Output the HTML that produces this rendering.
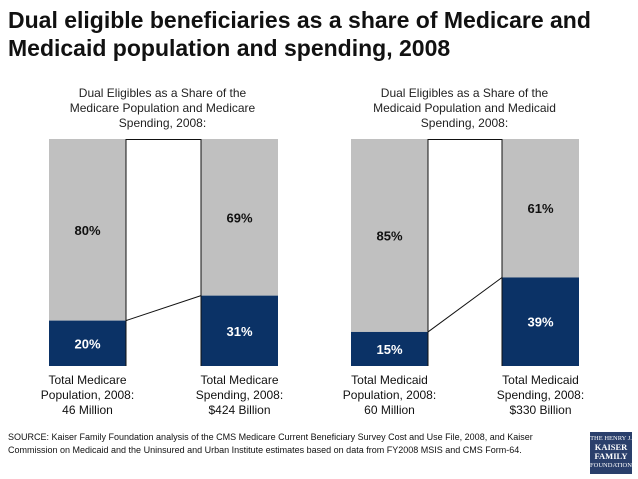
<!DOCTYPE html>
<html><head><meta charset="utf-8"><style>
body{margin:0;width:638px;height:479px;background:#fff;overflow:hidden;font-family:"Liberation Sans",sans-serif;position:relative}
.t{position:absolute;left:8px;top:6px;font-size:23px;font-weight:bold;color:#111;line-height:28px}
.st{position:absolute;font-size:12px;text-align:center;line-height:15px;color:#222}
.src{position:absolute;left:8px;top:431px;font-size:9px;line-height:13px;color:#111}
.logo{position:absolute;left:590px;top:432px;width:42px;height:42px;background:#2a3f6b;color:#fff;font-family:"Liberation Serif",serif;font-size:6.5px;text-align:center;line-height:7.5px;padding-top:3px;box-sizing:border-box;overflow:hidden}
.logo b{font-size:8.5px;line-height:9px}
</style></head><body>
<div class="t">Dual eligible beneficiaries as a share of Medicare and<br>Medicaid population and spending, 2008</div>
<div class="st" style="left:40px;top:86px;width:245px">Dual Eligibles as a Share of the<br>Medicare Population and Medicare<br>Spending, 2008:</div>
<div class="st" style="left:342px;top:86px;width:245px">Dual Eligibles as a Share of the<br>Medicaid Population and Medicaid<br>Spending, 2008:</div>
<svg id="c" width="638" height="479" style="position:absolute;left:0;top:0"></svg>
<div class="src">SOURCE: Kaiser Family Foundation analysis of the CMS Medicare Current Beneficiary Survey Cost and Use File, 2008, and Kaiser<br>Commission on Medicaid and the Uninsured and Urban Institute estimates based on data from FY2008 MSIS and CMS Form-64.</div>
<div class="logo">THE HENRY J.<br><b>KAISER<br>FAMILY</b><br>FOUNDATION</div>
<script>
const categories=[["Total Medicare","Population, 2008:","46 Million"],["Total Medicare","Spending, 2008:","$424 Billion"],["Total Medicaid","Population, 2008:","60 Million"],["Total Medicaid","Spending, 2008:","$330 Billion"]];
const dualShare=[20,31,15,39];
const otherShare=[80,69,85,61];
const barX=[49,201,351,502];
const W=77,topY=139,botY=366,H=botY-topY;
const svg=document.getElementById('c');
const NS='http://www.w3.org/2000/svg';
function yPos(v){return botY-v/100*H;}
function mk(t,a,txt){const e=document.createElementNS(NS,t);for(const k in a)e.setAttribute(k,a[k]);if(txt!==undefined)e.textContent=txt;svg.appendChild(e);return e;}
for(let i=0;i<4;i++){
 const x=barX[i];
 let r=mk('rect',{x:x,y:topY,width:W,height:yPos(dualShare[i])-topY,fill:'#c0c0c0'});
 
 
 r=mk('rect',{x:x,y:yPos(dualShare[i]),width:W,height:botY-yPos(dualShare[i]),fill:'#0b3266'});
 
 
 let t=mk('text',{x:x+W/2,y:(topY+yPos(dualShare[i]))/2+5,'text-anchor':'middle','font-size':13,'font-weight':'bold',fill:'#111'},otherShare[i]+'%');
 
 
 t=mk('text',{x:x+W/2,y:(botY+yPos(dualShare[i]))/2+5,'text-anchor':'middle','font-size':13,'font-weight':'bold',fill:'#fff'},dualShare[i]+'%');
 
 
 categories[i].forEach((s,j)=>{const c=mk('text',{x:x+W/2,y:384+j*15,'text-anchor':'middle','font-size':12,fill:'#111'},s);
 
 });
}
for(let p=0;p<4;p+=2){
 const x1=barX[p]+W,x2=barX[p+1];
 mk('line',{x1:x1,y1:topY+0.5,x2:x2,y2:topY+0.5,stroke:'#111','stroke-width':1});
 mk('line',{x1:x1,y1:topY,x2:x1,y2:botY,stroke:'#111','stroke-width':1});
 mk('line',{x1:x2,y1:topY,x2:x2,y2:botY,stroke:'#111','stroke-width':1});
 const l=mk('line',{x1:x1,y1:yPos(dualShare[p]),x2:x2,y2:yPos(dualShare[p+1]),stroke:'#111','stroke-width':1});
 
 
}
</script>
</body></html>
